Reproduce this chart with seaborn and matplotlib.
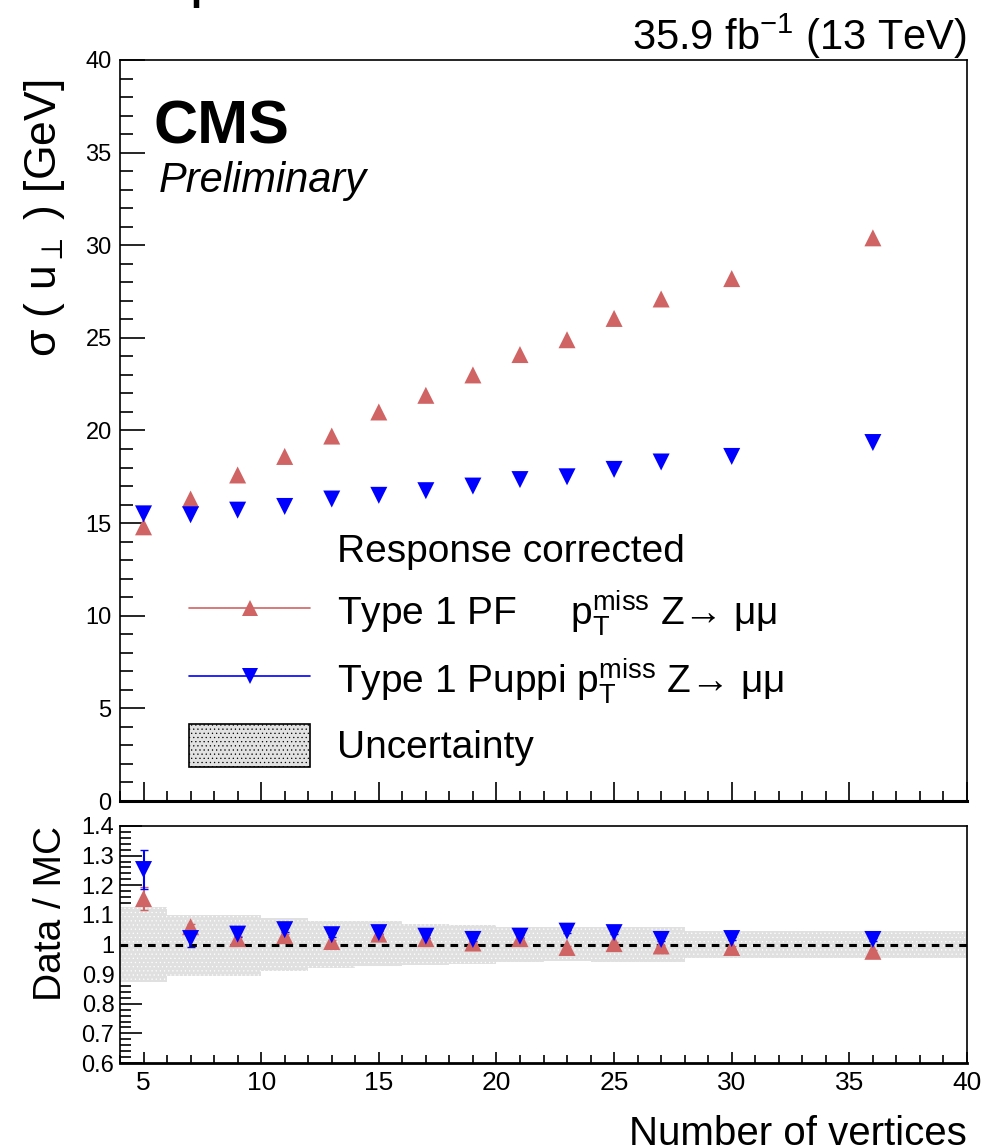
import numpy as np
import pandas as pd
import matplotlib
matplotlib.use("Agg")
import matplotlib.pyplot as plt
import seaborn as sns
from matplotlib.lines import Line2D
from matplotlib.patches import Patch
from matplotlib.ticker import MultipleLocator, FixedLocator, FixedFormatter

# ---------------- data ----------------
n_vertices = [5, 7, 9, 11, 13, 15, 17, 19, 21, 23, 25, 27, 30, 36]
sigma_pf = [14.8, 16.3, 17.6, 18.6, 19.7, 21.0, 21.9, 23.0, 24.1, 24.9, 26.05, 27.1, 28.2, 30.4]
sigma_puppi = [15.5, 15.45, 15.7, 15.9, 16.3, 16.5, 16.75, 17.0, 17.35, 17.5, 17.9, 18.3, 18.6, 19.35]

ratio_pf = [1.155, 1.06, 1.02, 1.03, 1.01, 1.035, 1.02, 1.005, 1.02, 0.99, 1.003, 0.995, 0.99, 0.977]
ratio_pf_err = [0.04, 0.01, 0.008, 0.006, 0.005, 0.005, 0.005, 0.005, 0.005, 0.005, 0.005, 0.005, 0.005, 0.005]
ratio_puppi = [1.253, 1.02, 1.035, 1.05, 1.033, 1.04, 1.028, 1.017, 1.028, 1.045, 1.04, 1.017, 1.02, 1.017]
ratio_puppi_err = [0.065, 0.03, 0.01, 0.008, 0.006, 0.005, 0.005, 0.005, 0.005, 0.005, 0.005, 0.005, 0.005, 0.005]

band_edges = [4, 6, 8, 10, 12, 14, 16, 18, 20, 22, 24, 26, 28, 32, 40]
band_up = [1.125, 1.10, 1.10, 1.09, 1.08, 1.078, 1.07, 1.065, 1.06, 1.06, 1.058, 1.058, 1.047, 1.047]
band_down = [0.875, 0.895, 0.895, 0.91, 0.922, 0.926, 0.93, 0.935, 0.94, 0.945, 0.94, 0.94, 0.955, 0.955]

ratio_ticks = [0.6, 0.7, 0.8, 0.9, 1.0, 1.1, 1.2, 1.3, 1.4]
ratio_tick_labels = ["0.6", "0.7", "0.8", "0.9", "1", "1.1", "1.2", "1.3", "1.4"]

label_pf = r"Type 1 PF     $\mathrm{p}_{\mathrm{T}}^{\mathrm{miss}}$ Z→ μμ"
label_puppi = r"Type 1 Puppi $\mathrm{p}_{\mathrm{T}}^{\mathrm{miss}}$ Z→ μμ"

# ---------------- style ----------------
sns.set_theme(style="ticks")
plt.rcParams["font.family"] = ["Liberation Sans", "DejaVu Sans"]
plt.rcParams["mathtext.fontset"] = "custom"
plt.rcParams["mathtext.rm"] = "Liberation Sans"
plt.rcParams["mathtext.it"] = "Liberation Sans:italic"
plt.rcParams["mathtext.bf"] = "Liberation Sans:bold"
plt.rcParams["mathtext.sf"] = "Liberation Sans"
for k in ["text.color", "axes.labelcolor", "xtick.color", "ytick.color",
          "xtick.labelcolor", "ytick.labelcolor", "axes.edgecolor"]:
    plt.rcParams[k] = "black"
plt.rcParams["hatch.color"] = "#a8a8a8"
plt.rcParams["hatch.linewidth"] = 0.4

RED = "#d06464"
BLUE = "#0000ff"

fig = plt.figure(figsize=(9.84, 11.46), dpi=100)
W, H = 984, 1146
ax = fig.add_axes([120 / W, 1 - 801 / H, (967 - 120) / W, (801 - 60) / H])
rax = fig.add_axes([120 / W, 1 - 1063 / H, (967 - 120) / W, (1063 - 826) / H])

df = pd.DataFrame({
    "x": n_vertices * 2,
    "y": sigma_pf + sigma_puppi,
    "r": ratio_pf + ratio_puppi,
    "s": ["PF"] * len(n_vertices) + ["Puppi"] * len(n_vertices),
})

# main panel
sns.scatterplot(data=df, x="x", y="y", hue="s", style="s",
                palette={"PF": RED, "Puppi": BLUE}, markers={"PF": "^", "Puppi": "v"},
                s=150, linewidth=0, ax=ax, legend=False, zorder=3)
ax.set_xlim(4, 40)
ax.set_ylim(0, 40)
ax.set_xlabel("")
ax.set_ylabel(r"σ ( u$_{\perp}$ ) [GeV]", fontsize=32)
ax.yaxis.set_label_coords(-0.062, 0.973, transform=ax.transAxes)
ax.yaxis.label.set_horizontalalignment("right")
ax.yaxis.set_major_locator(MultipleLocator(5))
ax.yaxis.set_minor_locator(MultipleLocator(1))
ax.xaxis.set_major_locator(MultipleLocator(5))
ax.xaxis.set_minor_locator(MultipleLocator(1))
ax.tick_params(axis="both", which="both", direction="in", top=False, right=False)
ax.tick_params(axis="y", which="major", length=18, width=1.2, labelsize=17, pad=6)
ax.tick_params(axis="y", which="minor", length=9, width=1.2)
ax.tick_params(axis="x", which="major", length=14, width=1.2, labelbottom=False)
ax.tick_params(axis="x", which="minor", length=7, width=1.2)
for sp in ax.spines.values():
    sp.set_visible(True)
    sp.set_linewidth(1.2)
    sp.set_color("black")
ax.spines["bottom"].set_linewidth(2.2)

ax.text(0.04, (801 - 143) / 741, "CMS", transform=ax.transAxes, fontsize=44,
        fontweight="bold", ha="left", va="baseline")
ax.text(0.046, (801 - 192) / 741, "Preliminary", transform=ax.transAxes, fontsize=30,
        style="italic", ha="left", va="baseline")
fig.text(967 / W, 1 - 50 / H, r"35.9 fb$^{\mathrm{-1}}$ (13 TeV)", fontsize=30,
         ha="right", va="baseline")
fig.text(0.193, 1.0, "p", fontsize=29, fontweight="bold", ha="left", va="baseline")

handles = [
    Patch(facecolor="none", edgecolor="none"),
    Line2D([0], [0], color=RED, marker="^", markersize=11, lw=1.2, markeredgewidth=0),
    Line2D([0], [0], color=BLUE, marker="v", markersize=11, lw=1.2, markeredgewidth=0),
    Patch(facecolor="#e2e2e2", edgecolor="black", hatch="....", linewidth=1.2),
]
labels = ["Response corrected", label_pf, label_puppi, "Uncertainty"]
leg = ax.legend(handles, labels, loc="upper left", bbox_to_anchor=(0.059, 0.395),
                frameon=False, fontsize=28, handlelength=3.1, handleheight=1.3,
                handletextpad=0.7, labelspacing=0.47, borderpad=0)

# ratio panel
xs_edges = np.array(band_edges)
up = np.array(band_up + [band_up[-1]])
dn = np.array(band_down + [band_down[-1]])
rax.fill_between(xs_edges, dn, up, step="post", facecolor="#e0e0e0", edgecolor="none",
                 hatch="....", zorder=1)
rax.errorbar(n_vertices, ratio_pf, yerr=ratio_pf_err, fmt="none", ecolor=RED,
             elinewidth=1.5, capsize=3, zorder=2)
rax.errorbar(n_vertices, ratio_puppi, yerr=ratio_puppi_err, fmt="none", ecolor=BLUE,
             elinewidth=1.5, capsize=3, zorder=2)
sns.scatterplot(data=df, x="x", y="r", hue="s", style="s",
                palette={"PF": RED, "Puppi": BLUE}, markers={"PF": "^", "Puppi": "v"},
                s=150, linewidth=0, ax=rax, legend=False, zorder=3)
rax.axhline(1.0, color="black", ls=(0, (2.5, 2)), lw=2.2, zorder=2.5)
rax.set_xlim(4, 40)
rax.set_ylim(0.6, 1.4)
rax.set_xlabel("Number of vertices", fontsize=29, loc="right", labelpad=14)
rax.set_ylabel("Data / MC", fontsize=28)
rax.yaxis.set_label_coords(-0.06, 1.0, transform=rax.transAxes)
rax.yaxis.label.set_horizontalalignment("right")
rax.yaxis.set_major_locator(FixedLocator(ratio_ticks))
rax.yaxis.set_major_formatter(FixedFormatter(ratio_tick_labels))
rax.yaxis.set_minor_locator(MultipleLocator(0.02))
rax.xaxis.set_major_locator(MultipleLocator(5))
rax.xaxis.set_minor_locator(MultipleLocator(1))
rax.tick_params(axis="both", which="both", direction="in", top=False, right=False)
rax.tick_params(axis="y", which="major", length=16, width=1.2, labelsize=17, pad=4)
rax.tick_params(axis="y", which="minor", length=8, width=1.2)
rax.tick_params(axis="x", which="major", length=8, width=1.2, labelsize=19, pad=6)
rax.tick_params(axis="x", which="minor", length=6, width=1.2)
for sp in rax.spines.values():
    sp.set_visible(True)
    sp.set_linewidth(1.2)
    sp.set_color("black")
rax.spines["bottom"].set_linewidth(2.0)

fig.savefig("out.png", dpi=100)
